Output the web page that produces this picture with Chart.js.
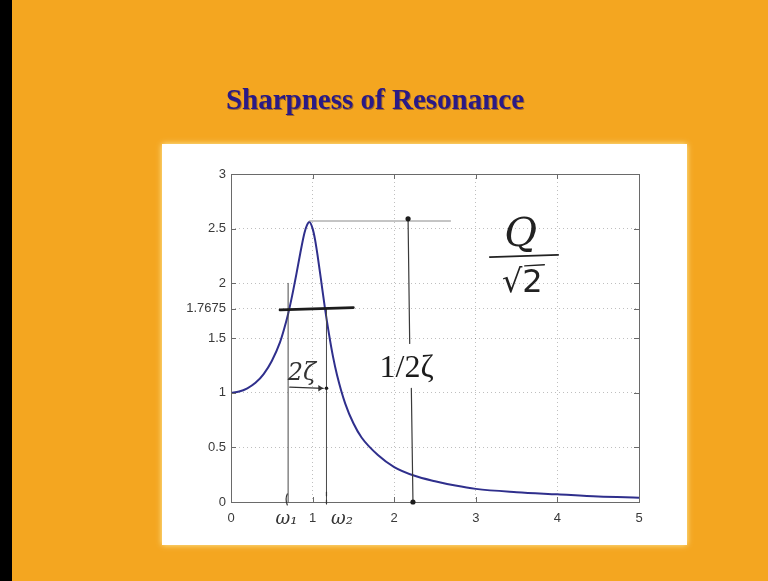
<!DOCTYPE html>
<html>
<head>
<meta charset="utf-8">
<style>
  html, body { margin: 0; padding: 0; background: #F4A620; }
  #wrap { width: 768px; height: 581px; position: relative; }
</style>
<script src="https://cdn.jsdelivr.net/npm/chart.js@4/dist/chart.umd.min.js"></script>
</head>
<body>
<div id="wrap"><canvas id="c" width="768" height="581"></canvas></div>
<script>
// Frequency ratio (omega / omega_n) and magnification factor of the response curve
const freqRatio = [0, 0.1, 0.2, 0.3, 0.4, 0.5, 0.6, 0.65, 0.7, 0.75, 0.8, 0.85, 0.9, 0.93, 0.96,
  1.0, 1.03, 1.06, 1.1, 1.15, 1.2, 1.25, 1.3, 1.4, 1.5, 1.6, 1.8, 2.0, 2.25, 2.5, 2.75, 3.0,
  3.5, 4.0, 4.5, 5.0];
const magnification = [1.00, 1.01, 1.04, 1.09, 1.17, 1.29, 1.46, 1.58, 1.72, 1.89, 2.08, 2.28,
  2.46, 2.53, 2.56, 2.50, 2.40, 2.26, 2.05, 1.78, 1.54, 1.33, 1.16, 0.90, 0.72, 0.59, 0.43,
  0.32, 0.24, 0.19, 0.15, 0.12, 0.09, 0.07, 0.05, 0.04];

// Axis ticks
const xTicks = [0, 1, 2, 3, 4, 5];
const yTicks = [0, 0.5, 1, 1.5, 1.7675, 2, 2.5, 3];
const yTickLabels = ['0', '0.5', '1', '1.5', '1.7675', '2', '2.5', '3'];

// Marked quantities
const halfPowerLevel = 1.7675;
const peakLevel = 2.57;
const omega1 = 0.70;
const omega2 = 1.17;

const ORANGE = '#F4A620';
const INK = '#1c1c1c';

const backdrop = {
  id: 'backdrop',
  beforeDraw(chart) {
    const ctx = chart.ctx;
    ctx.save();
    ctx.fillStyle = ORANGE;
    ctx.fillRect(0, 0, 768, 581);
    ctx.fillStyle = '#000';
    ctx.fillRect(0, 0, 12, 581);
    // white panel with a soft pale rim
    ctx.shadowColor = 'rgba(255,245,180,0.9)';
    ctx.shadowBlur = 6;
    ctx.fillStyle = '#ffffff';
    ctx.fillRect(162, 144, 525, 401);
    ctx.shadowBlur = 0;
    // slide title
    ctx.font = 'bold 29px "Liberation Serif", "Times New Roman", serif';
    ctx.textAlign = 'center';
    ctx.textBaseline = 'alphabetic';
    ctx.fillStyle = 'rgba(60,30,40,0.45)';
    ctx.fillText('Sharpness of Resonance', 376, 110);
    ctx.fillStyle = '#2a1a86';
    ctx.fillText('Sharpness of Resonance', 375, 109);
    ctx.restore();
  }
};

const frame = {
  id: 'frame',
  afterDatasetsDraw(chart) {
    const ctx = chart.ctx;
    const a = chart.chartArea;
    const xs = chart.scales.x, ys = chart.scales.y;
    ctx.save();
    ctx.strokeStyle = '#6a6a6a';
    ctx.lineWidth = 1;
    ctx.strokeRect(Math.round(a.left) + 0.5, Math.round(a.top) + 0.5,
      Math.round(a.right - a.left), Math.round(a.bottom - a.top));
    ctx.beginPath();
    xTicks.forEach(v => {
      const px = Math.round(xs.getPixelForValue(v)) + 0.5;
      ctx.moveTo(px, a.bottom); ctx.lineTo(px, a.bottom - 5);
      ctx.moveTo(px, a.top); ctx.lineTo(px, a.top + 5);
    });
    yTicks.forEach(v => {
      const py = Math.round(ys.getPixelForValue(v)) + 0.5;
      ctx.moveTo(a.left, py); ctx.lineTo(a.left + 5, py);
      ctx.moveTo(a.right, py); ctx.lineTo(a.right - 5, py);
    });
    ctx.stroke();
    ctx.restore();
  }
};

const marks = {
  id: 'marks',
  afterDraw(chart) {
    const ctx = chart.ctx;
    const X = v => chart.scales.x.getPixelForValue(v);
    const Y = v => chart.scales.y.getPixelForValue(v);
    const line = (x1, y1, x2, y2, w, c) => {
      ctx.beginPath();
      ctx.lineWidth = w; ctx.strokeStyle = c;
      ctx.moveTo(X(x1), Y(y1)); ctx.lineTo(X(x2), Y(y2));
      ctx.stroke();
    };
    const dot = (x, y, r) => {
      ctx.beginPath(); ctx.fillStyle = INK;
      ctx.arc(X(x), Y(y), r, 0, Math.PI * 2); ctx.fill();
    };
    ctx.save();
    ctx.lineCap = 'round';

    // half-power bandwidth lines
    line(omega1, 2.0, omega1, 0, 1, '#4a4a4a');
    line(omega2, halfPowerLevel, omega2, 0, 1, '#4a4a4a');
    line(0.60, halfPowerLevel - 0.01, 1.50, halfPowerLevel + 0.01, 2.6, INK);

    // peak level and its height marker
    line(0.96, peakLevel, 2.69, peakLevel, 1, '#8a8a8a');
    line(2.17, peakLevel + 0.02, 2.19, 1.45, 1.2, '#3a3a3a');
    line(2.21, 1.04, 2.23, 0, 1.2, '#3a3a3a');
    dot(2.17, peakLevel + 0.02, 2.6);
    dot(2.23, 0, 2.6);

    // 1/2ζ label
    ctx.fillStyle = INK;
    ctx.font = '32px "Liberation Serif", "Times New Roman", serif';
    ctx.textAlign = 'left';
    ctx.textBaseline = 'alphabetic';
    ctx.fillText('1/2ζ', X(1.82), Y(1.14));

    // Q over root two
    ctx.font = 'italic 40px "DejaVu Serif", serif';
    ctx.textAlign = 'center';
    ctx.fillStyle = '#222';
    ctx.fillText('Q', X(3.55), Y(2.34));
    line(3.17, 2.24, 4.01, 2.26, 1.6, '#222');
    ctx.font = '32px "DejaVu Sans", sans-serif';
    ctx.fillText('√2', X(3.57), Y(1.92));
    line(3.60, 2.16, 3.84, 2.17, 1.4, '#222');

    // 2ζ bandwidth label with arrow
    ctx.font = 'italic 24px "DejaVu Serif", serif';
    ctx.fillStyle = '#333';
    ctx.fillText('2ζ', X(0.87), Y(1.12));
    line(0.72, 1.05, 1.13, 1.04, 1.3, '#333');
    ctx.beginPath();
    ctx.moveTo(X(1.13), Y(1.04));
    ctx.lineTo(X(1.07), Y(1.07));
    ctx.lineTo(X(1.07), Y(1.01));
    ctx.closePath(); ctx.fillStyle = '#333'; ctx.fill();
    dot(1.17, 1.04, 1.8);

    // ω1 / ω2 marks under the axis
    const base = Y(0);
    ctx.font = 'italic 18px "DejaVu Serif", serif';
    ctx.fillStyle = '#333';
    ctx.textBaseline = 'middle';
    ctx.fillText('ω₁', X(0.68), base + 17);
    ctx.fillText('ω₂', X(1.36), base + 17);
    ctx.beginPath();
    ctx.lineWidth = 1.2; ctx.strokeStyle = '#333';
    ctx.moveTo(X(0.69), base - 8); ctx.quadraticCurveTo(X(0.66), base - 3, X(0.69), base + 3);
    ctx.moveTo(X(omega2), base - 10); ctx.lineTo(X(omega2), base - 6);
    ctx.moveTo(X(omega2), base - 2); ctx.lineTo(X(omega2), base + 2);
    ctx.stroke();
    ctx.restore();
  }
};

new Chart(document.getElementById('c'), {
  type: 'line',
  data: {
    datasets: [{
      data: freqRatio.map((r, i) => ({ x: r, y: magnification[i] })),
      borderColor: '#2f2f8c',
      borderWidth: 2,
      pointRadius: 0,
      cubicInterpolationMode: 'monotone',
      fill: false
    }]
  },
  options: {
    responsive: false,
    devicePixelRatio: 1,
    animation: false,
    layout: { padding: { left: 171, top: 174, right: 129, bottom: 49 } },
    plugins: { legend: { display: false }, tooltip: { enabled: false }, title: { display: false } },
    scales: {
      x: {
        type: 'linear', min: 0, max: 5,
        afterBuildTicks: s => { s.ticks = xTicks.map(v => ({ value: v })); },
        afterFit: s => { s.height = 30; },
        grid: { color: 'rgba(0,0,0,0.25)', drawTicks: false, lineWidth: 1 },
        border: { display: false, dash: [1, 3] },
        ticks: {
          padding: 9, color: '#3a3a3a',
          font: { family: '"Liberation Sans", Arial, sans-serif', size: 13 },
          callback: v => String(v)
        }
      },
      y: {
        type: 'linear', min: 0, max: 3,
        afterBuildTicks: s => { s.ticks = yTicks.map(v => ({ value: v })); },
        afterFit: s => { s.width = 60; },
        grid: { color: 'rgba(0,0,0,0.25)', drawTicks: false, lineWidth: 1 },
        border: { display: false, dash: [1, 3] },
        ticks: {
          padding: 5, color: '#3a3a3a',
          font: { family: '"Liberation Sans", Arial, sans-serif', size: 13 },
          callback: v => yTickLabels[yTicks.indexOf(v)] ?? String(v)
        }
      }
    }
  },
  plugins: [backdrop, frame, marks]
});
</script>
</body>
</html>
